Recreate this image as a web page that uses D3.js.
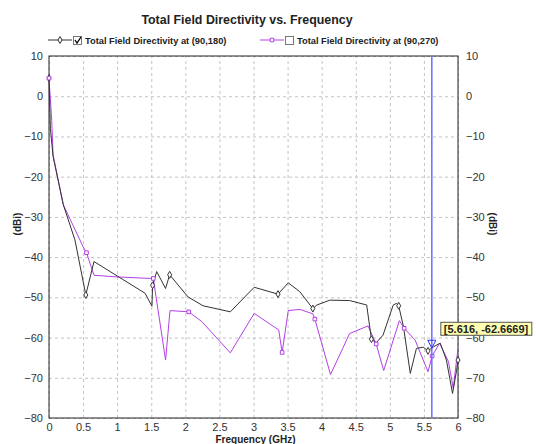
<!DOCTYPE html>
<html>
<head>
<meta charset="utf-8">
<script src="https://cdn.jsdelivr.net/npm/d3@7"></script>
<style>
  body { margin: 0; background: #fff; font-family: "Liberation Sans", Arial, sans-serif; }
  .grid line { stroke: #c4c4c4; stroke-dasharray: 3,3; }
  .grid .domain { display: none; }
  .ticks text { font-size: 11px; fill: #333; }
  .ticks .domain, .ticks line { display: none; }
</style>
</head>
<body>
<div id="chart"></div>
<script>
// afmetingen van het plotgebied
const width = 409;
const height = 362;
const margin = {top: 56, left: 49};

// frequenties (GHz) en directiviteit (dBi) voor (90,180)
const freq180 = [0, 0.02, 0.06, 0.21, 0.38, 0.54, 0.66, 1.41, 1.51, 1.52, 1.58, 1.71, 1.77, 2.04, 2.26, 2.66, 3.01, 3.36, 3.51, 3.68, 3.87, 3.93, 4.12, 4.41, 4.66, 4.73, 4.80, 4.90, 5.05, 5.10, 5.13, 5.20, 5.30, 5.39, 5.49, 5.56, 5.64, 5.74, 5.83, 5.92, 5.98, 6.00];
const dir180 = [4.5, -8, -15, -27, -35.7, -49.4, -41.1, -49, -52.2, -47, -43.6, -47.8, -44.4, -49.9, -52.1, -53.6, -47.5, -49.2, -46.4, -48.6, -52.8, -51.9, -50.7, -50.8, -51.9, -60.4, -61.3, -59.4, -51.9, -51.5, -52.1, -57.3, -68.9, -62.7, -62.4, -63.3, -62.3, -61.4, -65.6, -73.9, -68.1, -65.6];
const markers180 = [0, 0.54, 1.52, 1.77, 3.36, 3.87, 4.73, 5.13, 5.56, 6.00];

// frequenties (GHz) en directiviteit (dBi) voor (90,270)
const freq270 = [0, 0.04, 0.06, 0.21, 0.50, 0.55, 0.66, 0.97, 1.48, 1.53, 1.71, 1.775, 2.05, 2.24, 2.66, 3.01, 3.37, 3.42, 3.51, 3.68, 3.87, 3.90, 4.13, 4.41, 4.68, 4.80, 4.91, 5.14, 5.21, 5.37, 5.56, 5.62, 5.73, 5.86, 5.93, 6.00];
const dir270 = [4.5, -6, -14.6, -27, -37.4, -38.9, -44.5, -44.9, -45.3, -45.3, -65.6, -53.3, -53.6, -56, -63.8, -54, -58.1, -63.7, -53.3, -53, -54.1, -55.4, -69.2, -59, -57.1, -61.6, -68.2, -55.8, -57.7, -60.6, -68.5, -64.6, -61.4, -66, -72.6, -62.7];
const markers270 = [0, 0.55, 1.53, 2.05, 3.42, 3.90, 4.80, 5.21, 5.62];

// as-labels en de cursor
const xTicks = [0, 0.5, 1, 1.5, 2, 2.5, 3, 3.5, 4, 4.5, 5, 5.5, 6];
const yTicks = [10, 0, -10, -20, -30, -40, -50, -60, -70, -80];
const legendLabels = ["Total Field Directivity at (90,180)", "Total Field Directivity at (90,270)"];
const cursorFreq = 5.616;
const cursorValue = -62.6669;

const color180 = "#333333";
const color270 = "#b340e6";

var svg = d3.select("#chart")
    .append("svg")
    .attr("width", 536)
    .attr("height", 444);

var g = svg.append("g")
    .attr("transform", "translate(" + margin.left + "," + margin.top + ")");

var xScale = d3.scaleLinear().domain([0, 6]).range([0, width]);
var yScale = d3.scaleLinear().domain([-80, 10]).range([height, 0]);

// rasterlijnen
g.append("g")
    .attr("class", "grid")
    .attr("transform", "translate(0," + height + ")")
    .call(d3.axisBottom(xScale).tickValues(xTicks).tickSize(-height).tickFormat(""));

g.append("g")
    .attr("class", "grid")
    .call(d3.axisLeft(yScale).tickValues(yTicks).tickSize(-width).tickFormat(""));

// as-labels
g.append("g")
    .attr("class", "ticks")
    .attr("transform", "translate(0," + height + ")")
    .call(d3.axisBottom(xScale).tickValues(xTicks).tickSize(0).tickPadding(5).tickFormat(d3.format("")));

g.append("g")
    .attr("class", "ticks")
    .call(d3.axisLeft(yScale).tickValues(yTicks).tickSize(0).tickPadding(6));

g.append("g")
    .attr("class", "ticks")
    .attr("transform", "translate(" + width + ",0)")
    .call(d3.axisRight(yScale).tickValues(yTicks).tickSize(0).tickPadding(8));

// kader
g.append("rect")
    .attr("width", width)
    .attr("height", height)
    .attr("fill", "none")
    .attr("stroke", "#222")
    .attr("stroke-width", 1);

// lijnen
var line = d3.line()
    .x(function(d) { return xScale(d[0]); })
    .y(function(d) { return yScale(d[1]); });

var data180 = d3.zip(freq180, dir180);
var data270 = d3.zip(freq270, dir270);

g.append("path")
    .attr("d", line(data270))
    .attr("fill", "none")
    .attr("stroke", color270)
    .attr("stroke-width", 1);

g.append("path")
    .attr("d", line(data180))
    .attr("fill", "none")
    .attr("stroke", color180)
    .attr("stroke-width", 1);

// markers
function valueAt(freqs, vals, f) {
  return vals[freqs.indexOf(f)];
}

var diamond = d3.symbol().type(d3.symbolDiamond).size(14);
var square = d3.symbol().type(d3.symbolSquare).size(13);

g.append("g").selectAll("path")
    .data(markers180)
    .enter()
    .append("path")
    .attr("d", diamond)
    .attr("transform", function(d) { return "translate(" + xScale(d) + "," + yScale(valueAt(freq180, dir180, d)) + ")"; })
    .attr("fill", "#fff")
    .attr("stroke", color180);

g.append("g").selectAll("path")
    .data(markers270)
    .enter()
    .append("path")
    .attr("d", square)
    .attr("transform", function(d) { return "translate(" + xScale(d) + "," + yScale(valueAt(freq270, dir270, d)) + ")"; })
    .attr("fill", "#fff")
    .attr("stroke", color270);

// cursor
var cx = xScale(cursorFreq);
var cy = yScale(cursorValue);
g.append("line")
    .attr("x1", cx).attr("x2", cx)
    .attr("y1", 0).attr("y2", height)
    .attr("stroke", "#6b6bff")
    .attr("stroke-width", 1.5);

g.append("path")
    .attr("d", "M" + (cx - 4) + "," + (cy - 8) + "L" + (cx + 4) + "," + (cy - 8) + "L" + cx + "," + cy + "Z")
    .attr("fill", "none")
    .attr("stroke", "#3030ff");

var label = g.append("g")
    .attr("transform", "translate(" + (cx + 9) + "," + (cy - 26) + ")");
label.append("rect")
    .attr("width", 91)
    .attr("height", 13)
    .attr("fill", "#ffffb0")
    .attr("stroke", "#555");
label.append("text")
    .attr("x", 3)
    .attr("y", 10.5)
    .attr("font-size", "11px")
    .attr("font-weight", "bold")
    .attr("fill", "#222")
    .text("[" + cursorFreq + ", " + cursorValue + "]");

// titel
svg.append("text")
    .attr("x", 247)
    .attr("y", 24)
    .attr("text-anchor", "middle")
    .attr("font-size", "12.4px")
    .attr("font-weight", "bold")
    .attr("fill", "#222")
    .text("Total Field Directivity vs. Frequency");

// as-titels
svg.append("text")
    .attr("x", margin.left + width / 2 + 2)
    .attr("y", 443)
    .attr("text-anchor", "middle")
    .attr("font-size", "10px")
    .attr("font-weight", "bold")
    .attr("fill", "#222")
    .text("Frequency (GHz)");

svg.append("text")
    .attr("transform", "translate(21,224) rotate(-90)")
    .attr("text-anchor", "middle")
    .attr("font-size", "10px")
    .attr("font-weight", "bold")
    .attr("fill", "#222")
    .text("(dBi)");

svg.append("text")
    .attr("transform", "translate(489,224) rotate(90)")
    .attr("text-anchor", "middle")
    .attr("font-size", "10px")
    .attr("font-weight", "bold")
    .attr("fill", "#222")
    .text("(dBi)");

// legenda
var legendX = [48, 260];
var legendColors = [color180, color270];
legendLabels.forEach(function(t, i) {
  var lg = svg.append("g").attr("transform", "translate(" + legendX[i] + ",40)");
  lg.append("line")
      .attr("x1", 0).attr("x2", 24)
      .attr("stroke", legendColors[i]);
  lg.append("path")
      .attr("d", i == 0 ? diamond : square)
      .attr("transform", "translate(12,0)")
      .attr("fill", "#fff")
      .attr("stroke", legendColors[i]);
  lg.append("rect")
      .attr("x", 25.5).attr("y", -3.5)
      .attr("width", 8).attr("height", 8)
      .attr("fill", "#fff")
      .attr("stroke", "#777");
  if (i == 0) {
    lg.append("path")
        .attr("d", "M27,0L29,3L33,-3")
        .attr("fill", "none")
        .attr("stroke", "#000")
        .attr("stroke-width", 1.3);
  }
  lg.append("text")
      .attr("x", 37)
      .attr("y", 4)
      .attr("font-size", "9.3px")
      .attr("font-weight", "bold")
      .attr("fill", "#222")
      .text(t);
});
</script>
</body>
</html>
